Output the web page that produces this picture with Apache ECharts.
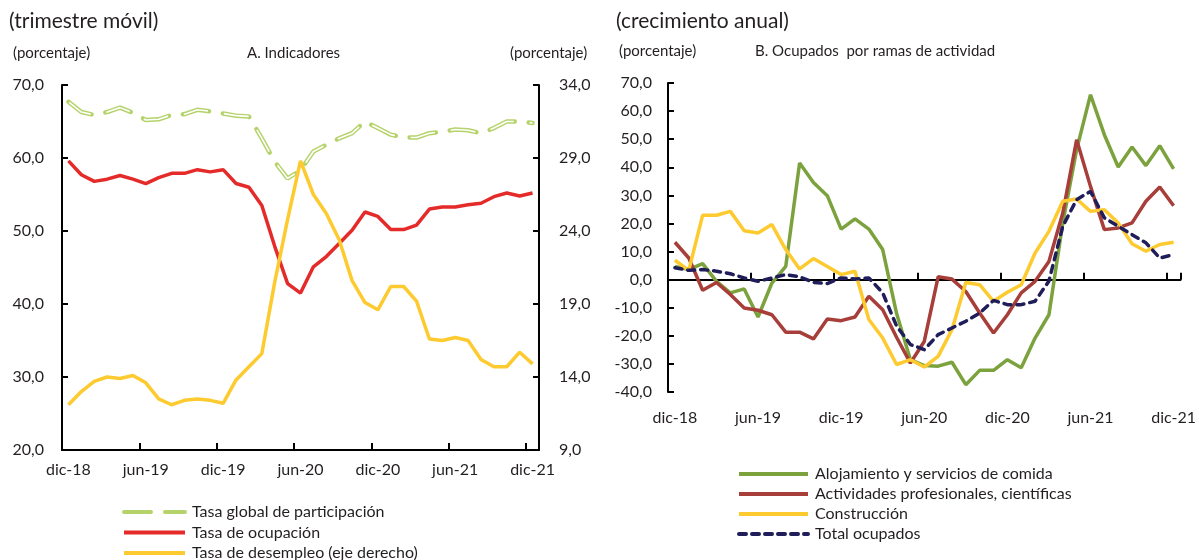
<!DOCTYPE html>
<html>
<head>
<meta charset="utf-8">
<script src="https://cdn.jsdelivr.net/npm/echarts@6/dist/echarts.min.js"></script>
<style>
html,body{margin:0;padding:0;background:#fff;}
#chart{width:1199px;height:560px;}
</style>
</head>
<body>
<div id="chart"></div>
<script>
// ---------- DATA ----------
const categories = [
  'dic-18',
  'ene-19','feb-19','mar-19','abr-19','may-19','jun-19','jul-19','ago-19','sep-19','oct-19','nov-19','dic-19',
  'ene-20','feb-20','mar-20','abr-20','may-20','jun-20','jul-20','ago-20','sep-20','oct-20','nov-20','dic-20',
  'ene-21','feb-21','mar-21','abr-21','may-21','jun-21','jul-21','ago-21','sep-21','oct-21','nov-21','dic-21'
];
// Panel A (left axis, %)
const tasaParticipacion = [67.7,66.3,65.9,66.3,66.9,66.2,65.2,65.3,65.9,66.0,66.6,66.4,66.1,65.8,65.7,62.7,59.5,57.2,58.3,60.9,61.8,62.7,63.4,65.0,64.1,63.2,62.8,62.8,63.4,63.6,63.9,63.8,63.4,64.1,65.0,65.0,64.8];
const tasaOcupacion = [59.6,57.7,56.8,57.1,57.6,57.1,56.5,57.3,57.9,57.9,58.4,58.1,58.4,56.5,56.0,53.5,47.9,42.8,41.5,45.1,46.5,48.3,50.1,52.6,52.0,50.2,50.2,50.8,53.0,53.3,53.3,53.6,53.8,54.7,55.2,54.8,55.2];
// Panel A (right axis, %)
const tasaDesempleo = [12.1,13.0,13.7,14.0,13.9,14.1,13.6,12.5,12.1,12.4,12.5,12.4,12.2,13.8,14.7,15.6,20.5,24.8,28.8,26.5,25.2,23.4,20.6,19.1,18.6,20.2,20.2,19.2,16.6,16.5,16.7,16.5,15.2,14.7,14.7,15.7,14.9];
// Panel B (annual growth, %)
const alojamiento = [4.7,3.6,5.7,-0.6,-4.7,-3.3,-13.3,-1.2,4.7,41.5,34.6,29.9,18.0,21.6,18.0,10.7,-12.0,-28.5,-30.6,-30.8,-29.4,-37.4,-32.3,-32.3,-28.5,-31.4,-20.8,-12.5,20.2,46.3,65.8,51.6,40.1,47.2,40.6,47.7,39.4];
const actividadesProf = [13.3,7.7,-3.8,-1.0,-5.3,-10.1,-10.9,-12.5,-18.7,-18.7,-21.1,-14.0,-14.6,-13.3,-5.9,-10.7,-20.5,-29.7,-22.0,1.0,0.2,-4.2,-11.9,-19.0,-12.5,-4.7,-0.6,6.5,23.7,49.8,33.2,17.8,18.4,20.2,27.9,33.0,26.3];
const construccion = [6.9,3.3,22.9,22.9,24.3,17.4,16.6,19.6,10.7,3.8,7.5,4.7,1.8,3.0,-14.2,-20.8,-30.2,-28.5,-31.1,-27.3,-17.8,-1.0,-1.8,-7.7,-4.5,-1.8,9.5,17.2,27.9,28.7,24.3,24.9,20.2,12.8,10.1,12.5,13.3];
const totalOcupados = [4.2,3.3,3.6,3.0,2.1,0.6,-0.6,0.6,1.8,1.0,-1.0,-1.4,0.6,0.2,0.6,-4.7,-16.5,-23.1,-24.9,-19.6,-17.2,-14.8,-11.9,-7.4,-8.9,-8.9,-7.7,-0.5,19.0,28.5,31.4,22.0,19.0,16.0,13.1,7.7,8.9];

const leftTicks = {min:20, max:70, step:10};
const rightTicks = {min:9, max:34, step:5};
const bTicks = {min:-40, max:70, step:10};

// ---------- CHART ----------
const FONT = 'Lato, "Open Sans", sans-serif';
const TXT = '#231f20';
const fmt = v => v.toFixed(1).replace('.', ',');
const chart = echarts.init(document.getElementById('chart'), null, {renderer:'canvas'});

const axisLineStyle = {show:true, lineStyle:{color:'#000', width:2}};
const tickIn = {show:true, inside:true, length:6, lineStyle:{color:'#000', width:2}};
const lblStyle = {color:TXT, fontFamily:FONT, fontSize:16};

const option = {
  animation:false,
  backgroundColor:'#fff',
  textStyle:{fontFamily:FONT},
  title:[
    {text:'(trimestre móvil)', left:4, top:6, textStyle:{fontFamily:FONT, fontSize:21, fontWeight:'normal', color:TXT}},
    {text:'(crecimiento anual)', left:611, top:6, textStyle:{fontFamily:FONT, fontSize:21, fontWeight:'normal', color:TXT}},
    {text:'(porcentaje)', left:8, top:41, textStyle:{fontFamily:FONT, fontSize:15, fontWeight:'normal', color:TXT}},
    {text:'A. Indicadores', left:242, top:41, textStyle:{fontFamily:FONT, fontSize:15, fontWeight:'normal', color:TXT}},
    {text:'(porcentaje)', left:505, top:41, textStyle:{fontFamily:FONT, fontSize:15, fontWeight:'normal', color:TXT}},
    {text:'(porcentaje)', left:614, top:39, textStyle:{fontFamily:FONT, fontSize:15, fontWeight:'normal', color:TXT}},
    {text:'B. Ocupados  por ramas de actividad', left:750, top:39, textStyle:{fontFamily:FONT, fontSize:15, fontWeight:'normal', color:TXT}}
  ],
  legend:[
    {
      orient:'vertical', left:122, top:504, height:80, padding:0, itemWidth:61, itemHeight:14, itemGap:4.5,
      data:['Tasa global de participación','Tasa de ocupación','Tasa de desempleo (eje derecho)'],
      itemStyle:{opacity:0},
      lineStyle:{width:4},
      textStyle:{fontFamily:FONT, fontSize:16, lineHeight:14, color:TXT, padding:[0,0,0,2]},
      selectedMode:false
    },
    {
      orient:'vertical', left:737, top:466, height:100, padding:0, itemWidth:69, itemHeight:14, itemGap:4,
      data:['Alojamiento y servicios de comida','Actividades profesionales, científicas','Construcción','Total ocupados'],
      itemStyle:{opacity:0},
      lineStyle:{width:4},
      textStyle:{fontFamily:FONT, fontSize:16, lineHeight:14, color:TXT, padding:[0,0,0,2]},
      selectedMode:false
    }
  ],
  grid:[
    {left:62, right:660, top:85, bottom:110, containLabel:false},
    {left:668, right:18, top:83, bottom:168, containLabel:false}
  ],
  xAxis:[
    {
      gridIndex:0, type:'category', data:categories, boundaryGap:true,
      axisLine:axisLineStyle,
      axisTick:Object.assign({}, tickIn, {interval:5, length:7}),
      axisLabel:Object.assign({}, lblStyle, {interval:5, margin:12})
    },
    {
      gridIndex:1, type:'category', data:categories, boundaryGap:true, position:'bottom',
      axisLine:{show:true, onZero:true, lineStyle:{color:'#000', width:2}},
      axisTick:Object.assign({}, tickIn, {interval:5, length:7}),
      axisLabel:{show:false}
    },
    {
      gridIndex:1, type:'category', data:categories, boundaryGap:true, position:'bottom',
      axisLine:{show:false, onZero:false},
      axisTick:{show:false},
      axisLabel:Object.assign({}, lblStyle, {interval:5, margin:18})
    }
  ],
  yAxis:[
    {
      gridIndex:0, type:'value', min:leftTicks.min, max:leftTicks.max, interval:leftTicks.step,
      axisLine:axisLineStyle, axisTick:tickIn, splitLine:{show:false},
      axisLabel:Object.assign({}, lblStyle, {formatter:fmt, margin:18})
    },
    {
      gridIndex:0, type:'value', position:'right', min:rightTicks.min, max:rightTicks.max, interval:rightTicks.step,
      axisLine:axisLineStyle, axisTick:tickIn, splitLine:{show:false},
      axisLabel:Object.assign({}, lblStyle, {formatter:fmt, margin:20})
    },
    {
      gridIndex:1, type:'value', min:bTicks.min, max:bTicks.max, interval:bTicks.step,
      axisLine:axisLineStyle, axisTick:tickIn, splitLine:{show:false},
      axisLabel:Object.assign({}, lblStyle, {formatter:fmt, margin:16})
    }
  ],
  series:[
    {
      name:'Tasa global de participación', type:'line', xAxisIndex:0, yAxisIndex:0, data:tasaParticipacion,
      symbol:'none', lineStyle:{color:'#b5d36a', width:4.5, type:[27,14], cap:'round'}, itemStyle:{color:'#b5d36a'}, z:2
    },
    {
      name:'_partInner', type:'line', xAxisIndex:0, yAxisIndex:0, data:tasaParticipacion,
      symbol:'none', lineStyle:{color:'#ffffff', width:1.6, type:[25,16], dashOffset:-1}, z:3, silent:true
    },
    {
      name:'Tasa de ocupación', type:'line', xAxisIndex:0, yAxisIndex:0, data:tasaOcupacion,
      symbol:'none', lineStyle:{color:'#e52b2a', width:3.5}, itemStyle:{color:'#e52b2a'}, z:4
    },
    {
      name:'Tasa de desempleo (eje derecho)', type:'line', xAxisIndex:0, yAxisIndex:1, data:tasaDesempleo,
      symbol:'none', lineStyle:{color:'#fdca30', width:3.5}, itemStyle:{color:'#fdca30'}, z:5
    },
    {
      name:'Alojamiento y servicios de comida', type:'line', xAxisIndex:1, yAxisIndex:2, data:alojamiento,
      symbol:'none', lineStyle:{color:'#7ca23e', width:3.5}, itemStyle:{color:'#7ca23e'}, z:2
    },
    {
      name:'Actividades profesionales, científicas', type:'line', xAxisIndex:1, yAxisIndex:2, data:actividadesProf,
      symbol:'none', lineStyle:{color:'#a83e39', width:3.5}, itemStyle:{color:'#a83e39'}, z:3
    },
    {
      name:'Construcción', type:'line', xAxisIndex:1, yAxisIndex:2, data:construccion,
      symbol:'none', lineStyle:{color:'#fdca30', width:3.5}, itemStyle:{color:'#fdca30'}, z:4
    },
    {
      name:'Total ocupados', type:'line', xAxisIndex:1, yAxisIndex:2, data:totalOcupados,
      symbol:'none', lineStyle:{color:'#1f1d5a', width:3.5, type:[7,6], cap:'round'}, itemStyle:{color:'#1f1d5a'}, z:5
    }
  ]
};
chart.setOption(option);
</script>
</body>
</html>
